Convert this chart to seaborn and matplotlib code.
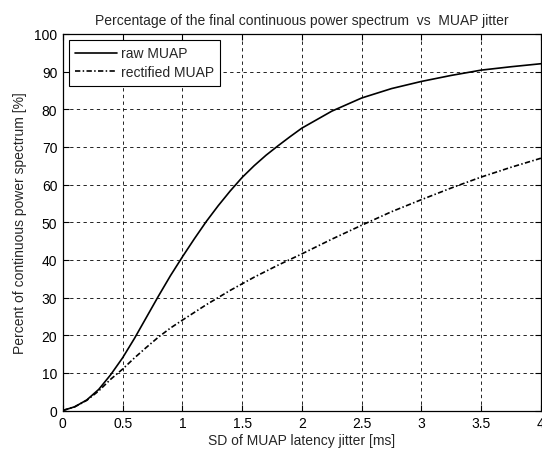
import matplotlib
matplotlib.use("Agg")
import matplotlib.pyplot as plt
import seaborn as sns
import pandas as pd
import numpy as np

# Data
jitter_raw = [0, 0.1, 0.2, 0.3, 0.4, 0.5, 0.6, 0.7, 0.8, 0.9, 1.0, 1.1, 1.2, 1.3, 1.4,
              1.5, 1.6, 1.7, 1.8, 1.9, 2.0, 2.25, 2.5, 2.75, 3.0, 3.25, 3.5, 3.75, 4.0]
pct_raw = [0, 1.0, 2.8, 5.6, 9.5, 14, 19.2, 24.8, 30.4, 35.8, 40.8, 45.6, 50.2, 54.4, 58.3,
           61.9, 65, 67.8, 70.3, 72.7, 75, 79.5, 83, 85.5, 87.4, 89, 90.4, 91.3, 92.1]

jitter_rect = [0, 0.1, 0.2, 0.3, 0.4, 0.5, 0.6, 0.7, 0.8, 0.9, 1.0, 1.2, 1.4, 1.6,
               1.8, 2.0, 2.25, 2.5, 2.75, 3.0, 3.25, 3.5, 3.75, 4.0]
pct_rect = [0, 1.0, 2.7, 5.2, 8.3, 11, 14, 16.8, 19.5, 21.9, 24, 28.1, 31.9, 35.4,
            38.6, 41.6, 45.5, 49.2, 52.8, 56, 59.1, 62, 64.6, 67]

series_names = ["raw MUAP", "rectified MUAP"]
title = "Percentage of the final continuous power spectrum  vs  MUAP jitter"
xlabel = "SD of MUAP latency jitter [ms]"
ylabel = "Percent of continuous power spectrum [%]"
xticks = [0, 0.5, 1, 1.5, 2, 2.5, 3, 3.5, 4]
xticklabels = ["0", "0.5", "1", "1.5", "2", "2.5", "3", "3.5", "4"]
yticks = list(range(0, 101, 10))

df_raw = pd.DataFrame({"x": jitter_raw, "y": pct_raw})
df_rect = pd.DataFrame({"x": jitter_rect, "y": pct_rect})

sns.set_style("ticks")
plt.rcParams["font.family"] = ["Liberation Sans", "DejaVu Sans"]

fig = plt.figure(figsize=(5.42, 4.52), dpi=100)
ax = fig.add_axes([0.116, 0.0896, 0.882, 0.833])

sns.lineplot(data=df_raw, x="x", y="y", ax=ax, color="black", lw=1.2,
             label=series_names[0], estimator=None, sort=False)
sns.lineplot(data=df_rect, x="x", y="y", ax=ax, color="black", lw=1.2,
             label=series_names[1], estimator=None, sort=False)
ax.lines[1].set_dashes((3.2, 1.4, 0.9, 1.4))

ax.set_xlim(0, 4)
ax.set_ylim(0, 100)
ax.set_xticks(xticks)
ax.set_xticklabels(xticklabels)
ax.set_yticks(yticks)
ax.grid(True, color="black", linestyle=(0, (4, 4)), linewidth=0.6)
ax.tick_params(direction="in", top=True, right=True, length=4, width=0.8,
               labelsize=10, colors="black", pad=4)
for s in ax.spines.values():
    s.set_visible(True)
    s.set_color("black")
    s.set_linewidth(0.9)

ax.set_title(title, fontsize=10, pad=7)
ax.set_xlabel(xlabel, fontsize=10, labelpad=2)
ax.set_ylabel(ylabel, fontsize=10, labelpad=5)

leg = ax.legend(loc="upper left", fontsize=10, frameon=True, fancybox=False,
                edgecolor="black", framealpha=1, handlelength=3.0,
                handletextpad=0.25, borderaxespad=0.45, borderpad=0.45,
                labelspacing=0.35)
leg.get_frame().set_linewidth(0.8)

fig.savefig("out.png", dpi=100, facecolor="white")
